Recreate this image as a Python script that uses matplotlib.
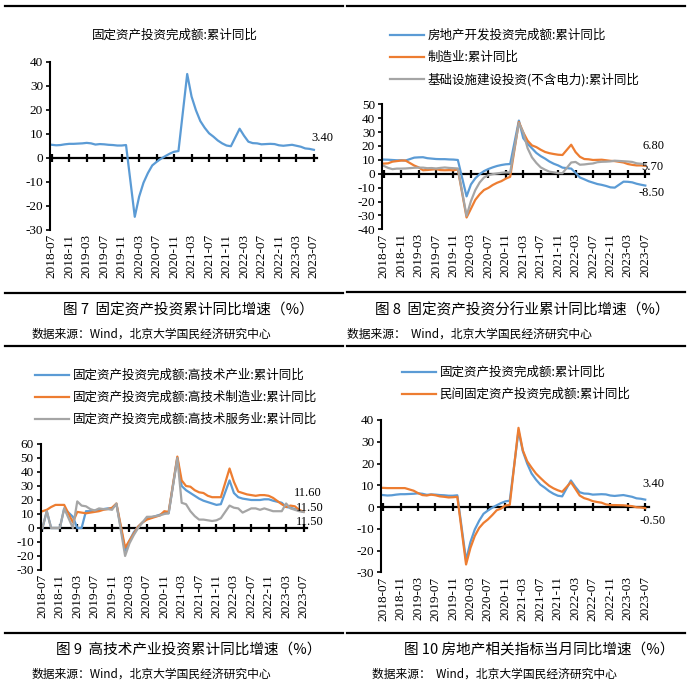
import matplotlib.pyplot as plt
from matplotlib.lines import Line2D

plt.rcParams['font.family'] = ['Noto Sans CJK SC', 'DejaVu Sans']
plt.rcParams['axes.unicode_minus'] = False

W, H = 694, 690
NUM_FONT = ['Liberation Serif', 'DejaVu Serif']
BLUE, ORANGE, GRAY = '#5B9BD5', '#ED7D31', '#A5A5A5'

# 月份轴：2018-07 ~ 2023-07，1月无数据（1-2月合并公布）
months = [f'{y}-{m:02d}' for y in range(2018, 2024) for m in range(1, 13)][6:67]
xs = [i for i, s in enumerate(months) if not s.endswith('-01')]
tick_pos = list(range(0, len(months), 4))
tick_labels = months[::4]

# 图7 / 图10：固定资产投资完成额累计同比
fai = [5.5, 5.3, 5.4, 5.7, 5.9, 5.9,
       6.1, 6.3, 6.1, 5.6, 5.8, 5.7, 5.5, 5.4, 5.2, 5.2, 5.4,
       -24.5, -16.1, -10.3, -6.3, -3.1, -1.6, -0.3, 0.8, 1.8, 2.6, 2.9,
       35.0, 25.6, 19.9, 15.4, 12.6, 10.3, 8.9, 7.3, 6.1, 5.2, 4.9,
       12.2, 9.3, 6.8, 6.2, 6.1, 5.7, 5.8, 5.9, 5.8, 5.3, 5.1,
       5.5, 5.1, 4.7, 4.0, 3.8, 3.4]

# 图8：分行业
realestate = [10.2, 10.1, 9.9, 9.7, 9.7, 9.5,
              11.6, 11.8, 11.9, 11.2, 10.9, 10.6, 10.5, 10.5, 10.3, 10.2, 9.9,
              -16.3, -7.7, -3.3, -0.3, 1.9, 3.4, 4.6, 5.6, 6.3, 6.8, 7.0,
              38.3, 25.6, 21.6, 18.3, 15.0, 12.7, 10.9, 8.8, 7.2, 6.0, 4.4,
              3.7, 0.7, -2.7, -4.0, -5.4, -6.4, -7.4, -8.0, -8.8, -9.8, -10.0,
              -5.7, -5.8, -6.2, -7.2, -7.9, -8.5]
manufacturing = [7.3, 7.5, 8.7, 9.1, 9.5, 9.5,
                 5.9, 4.6, 2.5, 2.7, 3.0, 3.3, 2.6, 2.5, 2.6, 2.5, 3.1,
                 -31.5, -25.2, -18.8, -14.8, -11.7, -10.2, -8.1, -6.5, -5.3, -3.5, -2.2,
                 37.3, 29.8, 23.8, 20.4, 19.2, 17.3, 15.7, 14.8, 14.2, 13.7, 13.5,
                 20.9, 15.6, 12.2, 10.6, 10.4, 9.9, 10.0, 10.1, 9.7, 9.3, 9.1,
                 8.1, 7.0, 6.4, 6.0, 6.0, 5.7]
infra = [5.7, 4.2, 3.3, 3.7, 3.7, 3.8,
         4.3, 4.4, 4.4, 4.0, 4.1, 3.8, 4.2, 4.5, 4.2, 4.0, 3.8,
         -30.3, -19.7, -11.8, -6.3, -2.7, -1.0, -0.3, 0.2, 0.7, 1.0, 0.9,
         36.6, 29.7, 18.4, 11.8, 7.8, 4.6, 2.9, 1.5, 1.0, 0.5, 0.4,
         8.1, 8.5, 6.5, 6.7, 7.1, 7.4, 8.3, 8.6, 8.7, 8.9, 9.4,
         9.0, 8.8, 8.5, 7.5, 7.2, 6.8]

# 图9：高技术产业（缺失值在原图中显示为0）
ht_ind = [0, 12, 0, 0, 0, 14,
          8, 0, 0, 12, 12, 12.5, 13, 13.5, 14, 14, 17,
          -16, -9, -3, 1, 4, 6.5, 7.5, 8.5, 9.5, 11, 10.5,
          50, 30, 27, 25, 23, 21, 19.5, 18.5, 17.5, 16.5, 17,
          34, 25, 22, 21, 20.5, 20, 20, 20, 20.5, 20.5, 19.5,
          18, 15, 14.5, 13.5, 12.5, 11.5]
ht_mfg = [12, 13, 15, 16.5, 16.5, 16.5,
          4, 11.5, 11, 10.5, 11, 11.5, 12, 13, 13.5, 14.5, 17.5,
          -14, -9, -4, 1, 4, 6, 7, 8, 9, 12, 11.5,
          51, 34, 30, 29.5, 27, 25.5, 25, 23, 22, 22, 22,
          42.5, 33, 26, 25, 24, 23.5, 23, 23.5, 23.5, 23, 21.5,
          17, 15, 16, 15.5, 13, 11.6]
ht_srv = [0, 12, 0, 0, 0, 14,
          0, 19, 16, 15.5, 13.5, 12.5, 14, 13.5, 13.5, 13, 17.5,
          -20, -11, -5, 0, 4, 8, 8, 8.5, 9, 10, 10.5,
          50, 18, 17, 12, 8.5, 6, 6, 5.5, 5, 5.5, 7,
          16, 14.5, 14, 11, 12.5, 14, 14, 13, 14, 13, 12,
          12, 17.5, 14, 13, 12, 11.5]

# 图10：民间固定资产投资
private = [8.8, 8.7, 8.7, 8.7, 8.7, 8.7,
           7.5, 6.4, 5.5, 5.3, 5.7, 5.4, 4.9, 4.7, 4.4, 4.5, 4.7,
           -26.4, -18.8, -13.3, -9.6, -7.3, -5.7, -3.7, -1.5, -0.7, 0.7, 1.0,
           36.4, 26.0, 21.0, 18.1, 15.4, 13.4, 11.5, 9.8, 8.6, 7.7, 7.0,
           11.4, 8.4, 5.3, 4.1, 3.5, 2.7, 2.3, 2.0, 1.2, 0.9, 0.9,
           0.8, 0.6, 0.4, -0.1, -0.2, -0.5]

fig = plt.figure(figsize=(W / 100, H / 100), dpi=100)


def make_axes(left, right, top, bottom, ylo, yhi):
    ax = fig.add_axes([left / W, 1 - bottom / H, (right - left) / W, (bottom - top) / H])
    ax.set_xlim(-0.4, 60.8)
    ax.set_ylim(ylo, yhi)
    ax.set_yticks(range(ylo, yhi + 1, 10))
    ax.spines['top'].set_visible(False)
    ax.spines['right'].set_visible(False)
    ax.spines['left'].set_linewidth(1.5)
    ax.spines['bottom'].set_position(('data', 0))
    ax.spines['bottom'].set_linewidth(1.6)
    ax.spines['bottom'].set_zorder(1)
    ax.set_xticks(tick_pos)
    ax.tick_params(axis='x', direction='inout', length=6, width=1.6, labelbottom=False)
    ax.tick_params(axis='y', direction='out', length=3, width=1.2, labelsize=9.5, pad=2)
    for lab in ax.get_yticklabels():
        lab.set_family(NUM_FONT)
    sec = ax.secondary_xaxis('bottom')
    sec.set_xticks(tick_pos, tick_labels, rotation=90, fontsize=9.5, family=NUM_FONT)
    sec.tick_params(length=0, pad=3)
    for sp in sec.spines.values():
        sp.set_visible(False)
    return ax


def value_label(ax, series, dx, dy):
    ax.annotate(f'{series[-1]:.2f}', xy=(xs[-1], series[-1]), xytext=(dx * 0.72, dy * 0.72),
                textcoords='offset points', ha='center', va='center',
                fontsize=9, family=NUM_FONT)


def separator(x0, x1, y):
    fig.add_artist(Line2D([x0 / W, x1 / W], [1 - y / H, 1 - y / H], color='black', lw=1.6))


def caption(x, y, cap, src):
    fig.text(x / W, 1 - y / H, cap, fontsize=10.5, va='center', ha='left')
    fig.text(src[0] / W, 1 - src[1] / H, src[2], fontsize=8.5, va='center', ha='left',
             fontweight='medium')


def legend(handles, labels, x, y):
    fig.legend(handles, labels, loc='upper left', bbox_to_anchor=(x / W, 1 - y / H),
               frameon=False, fontsize=9, handlelength=2.7, handletextpad=0.3,
               labelspacing=0.72, borderpad=0, borderaxespad=0)


# ---- 图7 ----
ax1 = make_axes(50, 317.4, 62, 230, -30, 40)
ax1.plot(xs, fai, color=BLUE, lw=1.6)
value_label(ax1, fai, 8, 12)
fig.text(175 / W, 1 - 35 / H, '固定资产投资完成额:累计同比', fontsize=9, ha='center', va='center')

# ---- 图8 ----
ax2 = make_axes(382, 648.8, 104.3, 229.3, -40, 50)
l1, = ax2.plot(xs, realestate, color=BLUE, lw=1.6)
l2, = ax2.plot(xs, manufacturing, color=ORANGE, lw=1.6)
l3, = ax2.plot(xs, infra, color=GRAY, lw=1.6)
value_label(ax2, infra, 7.7, 18)
value_label(ax2, manufacturing, 6.7, -1)
value_label(ax2, realestate, 6.7, -7.5)
legend([l1, l2, l3], ['房地产开发投资完成额:累计同比', '制造业:累计同比',
                      '基础设施建设投资(不含电力):累计同比'], 390, 29)

# ---- 图9 ----
ax3 = make_axes(40.7, 307, 444, 570, -30, 60)
h1, = ax3.plot(xs, ht_ind, color=BLUE, lw=1.6)
h2, = ax3.plot(xs, ht_mfg, color=ORANGE, lw=1.6)
h3, = ax3.plot(xs, ht_srv, color=GRAY, lw=1.6)
value_label(ax3, ht_mfg, 4, 19)
value_label(ax3, ht_ind, 6, 4)
value_label(ax3, ht_srv, 6, -10)
legend([h1, h2, h3], ['固定资产投资完成额:高技术产业:累计同比',
                      '固定资产投资完成额:高技术制造业:累计同比',
                      '固定资产投资完成额:高技术服务业:累计同比'], 35, 369)

# ---- 图10 ----
ax4 = make_axes(381.3, 648.7, 420, 572.3, -30, 40)
p1, = ax4.plot(xs, fai, color=BLUE, lw=1.6)
p2, = ax4.plot(xs, private, color=ORANGE, lw=1.6)
value_label(ax4, fai, 7.7, 15.3)
value_label(ax4, private, 7.7, -13.2)
legend([p1, p2], ['固定资产投资完成额:累计同比', '民间固定资产投资完成额:累计同比'], 402, 366)

# 分隔线与图注
separator(5, 343, 6)
separator(347, 685, 6)
separator(5, 343, 293)
separator(347, 685, 292)
separator(5, 343, 346)
separator(347, 685, 346)
separator(5, 343, 633)
separator(347, 685, 633)

caption(63, 310, '图 7  固定资产投资累计同比增速（%）', (32, 334, '数据来源：Wind，北京大学国民经济研究中心'))
caption(375, 310, '图 8  固定资产投资分行业累计同比增速（%）', (347, 334, '数据来源：  Wind，北京大学国民经济研究中心'))
caption(56, 650, '图 9  高技术产业投资累计同比增速（%）', (32, 674, '数据来源：Wind，北京大学国民经济研究中心'))
caption(404, 650, '图 10 房地产相关指标当月同比增速（%）', (372, 674, '数据来源：  Wind，北京大学国民经济研究中心'))

fig.savefig('out.png', dpi=100)
